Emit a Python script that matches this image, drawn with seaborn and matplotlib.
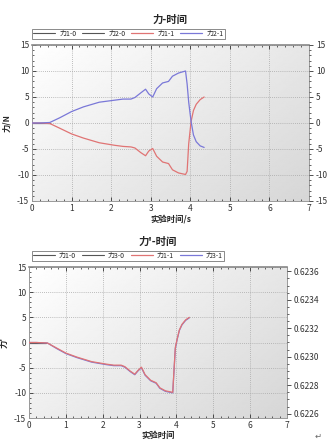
import numpy as np
import pandas as pd
import matplotlib
matplotlib.use("Agg")
import matplotlib.pyplot as plt
import seaborn as sns
from matplotlib.ticker import MultipleLocator, AutoMinorLocator

# ---------------- data ----------------
top_title = "力-时间"
bottom_title = "力'-时间"
top_labels = ["力1-0", "力2-0", "力1-1", "力2-1"]
bottom_labels = ["力1-0", "力3-0", "力1-1", "力3-1"]

zero_time = [0.0, 0.2, 0.45]
zero_force = [0.0, 0.0, 0.0]

time_top = [0.0, 0.2, 0.45, 0.7, 1.0, 1.3, 1.7, 2.1, 2.3, 2.5, 2.6, 2.75, 2.87, 2.95, 3.05,
            3.15, 3.3, 3.45, 3.55, 3.7, 3.88, 3.92, 3.96, 4.02, 4.08, 4.15, 4.25, 4.35]
force_2_1 = [0.0, 0.0, 0.1, 1.0, 2.2, 3.1, 4.0, 4.4, 4.6, 4.6, 4.9, 5.8, 6.5, 5.6, 5.0,
             6.6, 7.7, 8.0, 9.0, 9.6, 10.0, 7.5, 4.0, 0.3, -2.3, -3.6, -4.4, -4.7]
force_1_1 = [0.0, 0.0, -0.1, -1.0, -2.1, -2.9, -3.8, -4.3, -4.5, -4.6, -4.8, -5.7, -6.3, -5.4, -4.9,
             -6.4, -7.5, -7.8, -9.0, -9.6, -9.9, -9.3, -4.0, 0.3, 2.4, 3.6, 4.5, 5.0]

time_bot = [0.0, 0.2, 0.5, 0.75, 1.0, 1.3, 1.7, 2.1, 2.3, 2.5, 2.6, 2.75, 2.87, 2.95, 3.05,
            3.15, 3.3, 3.45, 3.55, 3.7, 3.9, 3.93, 3.97, 4.02, 4.08, 4.15, 4.25, 4.35]
force_b_1_1 = [0.0, 0.0, -0.1, -1.1, -2.1, -2.9, -3.8, -4.3, -4.5, -4.5, -4.8, -5.7, -6.3, -5.6, -4.9,
               -6.4, -7.5, -8.0, -9.0, -9.6, -9.9, -6.0, -1.0, 0.7, 2.5, 3.6, 4.5, 5.0]
force_b_3_1 = [0.0, 0.0, -0.1, -1.2, -2.2, -3.0, -3.9, -4.4, -4.6, -4.6, -4.9, -5.8, -6.4, -5.7, -5.0,
               -6.5, -7.6, -8.1, -9.1, -9.7, -10.0, -6.2, -1.2, 0.6, 2.4, 3.5, 4.4, 4.9]

# ---------------- style ----------------
sns.set_theme(style="white")
plt.rcParams["font.family"] = ["Noto Sans CJK SC", "DejaVu Sans"]
plt.rcParams["axes.unicode_minus"] = False

RED = "#e07474"
BLUE = "#7a78d8"
GRAY = "#555555"
FS = 6

fig = plt.figure(figsize=(3.28, 4.44), dpi=100)


def gradient_bg(ax):
    g = np.linspace(0, 1, 200)
    xx, yy = np.meshgrid(g, g)
    v = 1.0 - 0.16 * (xx * 0.6 + yy * 0.4)
    ax.imshow(v, extent=[0, 1, 0, 1], transform=ax.transAxes, cmap="gray",
              vmin=0.0, vmax=1.0, aspect="auto", zorder=0, origin="upper")


def style_axes(ax):
    ax.set_xlim(0, 7)
    ax.set_ylim(-15, 15)
    ax.xaxis.set_major_locator(MultipleLocator(1))
    ax.xaxis.set_minor_locator(AutoMinorLocator(5))
    ax.yaxis.set_major_locator(MultipleLocator(5))
    ax.yaxis.set_minor_locator(AutoMinorLocator(5))
    ax.grid(True, which="major", linestyle=(0, (1, 1.5)), color="#a8a8a8", linewidth=0.6)
    ax.tick_params(axis="both", which="major", direction="in", length=3, width=0.6,
                   labelsize=FS, colors="#333333", top=True, left=True, bottom=True,
                   right=False, pad=2)
    ax.tick_params(axis="both", which="minor", direction="in", length=1.5, width=0.5,
                   top=True, left=True, bottom=True, right=False)
    for s in ax.spines.values():
        s.set_color("#999999")
        s.set_linewidth(0.7)
    ax.spines["top"].set_color("#888888")
    ax.spines["top"].set_linewidth(1.2)
    ax.set_axisbelow(True)


def draw_legend(ax, handles, labels, x0, y0):
    leg = ax.legend(handles, labels, loc="lower left", bbox_to_anchor=(x0, y0),
                    ncol=4, fontsize=5, frameon=True, fancybox=False,
                    handlelength=3.2, handletextpad=0.6, columnspacing=0.8,
                    borderpad=0.15, borderaxespad=0)
    leg.get_frame().set_edgecolor("#555555")
    leg.get_frame().set_linewidth(0.6)
    leg.get_frame().set_facecolor("white")


# ---------- top chart ----------
ax1 = fig.add_axes([32 / 328, 1 - 201 / 444, 277 / 328, 156 / 444])
gradient_bg(ax1)
style_axes(ax1)
sns.lineplot(x=zero_time, y=zero_force, ax=ax1, color=GRAY, lw=0.8, label=top_labels[0], zorder=2)
sns.lineplot(x=zero_time, y=zero_force, ax=ax1, color=GRAY, lw=0.8, label=top_labels[1], zorder=2)
sns.lineplot(x=time_top, y=force_1_1, ax=ax1, color=RED, lw=0.9, label=top_labels[2], zorder=3)
sns.lineplot(x=time_top, y=force_2_1, ax=ax1, color=BLUE, lw=0.9, label=top_labels[3], zorder=3)
h, l = ax1.get_legend_handles_labels()
draw_legend(ax1, h, l, 0.0, 1.04)
ax1.set_xlabel("实验时间/s", fontsize=FS, fontweight="bold", labelpad=1)
ax1.set_ylabel("力/N", fontsize=FS, fontweight="bold", labelpad=4)
ax1.set_title(top_title, fontsize=7.5, fontweight="bold", pad=16)
ax1r = ax1.twinx()
ax1r.set_ylim(-15, 15)
ax1r.yaxis.set_major_locator(MultipleLocator(5))
ax1r.yaxis.set_minor_locator(AutoMinorLocator(5))
ax1r.tick_params(axis="y", which="major", direction="out", length=3, width=0.6,
                 labelsize=FS, colors="#333333", pad=2)
ax1r.tick_params(axis="y", which="minor", direction="out", length=1.5, width=0.5)
for s in ax1r.spines.values():
    s.set_visible(False)
ax1r.grid(False)

# ---------- bottom chart ----------
ax2 = fig.add_axes([29 / 328, 1 - 418 / 444, 258 / 328, 151 / 444])
gradient_bg(ax2)
style_axes(ax2)
sns.lineplot(x=zero_time, y=zero_force, ax=ax2, color=GRAY, lw=0.8, label=bottom_labels[0], zorder=2)
sns.lineplot(x=zero_time, y=zero_force, ax=ax2, color=GRAY, lw=0.8, label=bottom_labels[1], zorder=2)
sns.lineplot(x=time_bot, y=force_b_3_1, ax=ax2, color=BLUE, lw=0.9, label=bottom_labels[3], zorder=3)
sns.lineplot(x=time_bot, y=force_b_1_1, ax=ax2, color=RED, lw=0.9, label=bottom_labels[2], zorder=3)
h, l = ax2.get_legend_handles_labels()
order = [0, 1, 3, 2]
draw_legend(ax2, [h[i] for i in order], [l[i] for i in order], 0.01, 1.04)
ax2.set_xlabel("实验时间", fontsize=FS, fontweight="bold", labelpad=1)
ax2.set_ylabel("力'", fontsize=FS, fontweight="bold", labelpad=4)
ax2.set_title(bottom_title, fontsize=7.5, fontweight="bold", pad=16)
ax2r = ax2.twinx()
ax2r.set_ylim(0.62257, 0.62363)
ax2r.yaxis.set_major_locator(MultipleLocator(0.0002))
ax2r.yaxis.set_minor_locator(AutoMinorLocator(4))
ax2r.yaxis.set_major_formatter(matplotlib.ticker.FormatStrFormatter("%.4f"))
ax2r.tick_params(axis="y", which="major", direction="out", length=3, width=0.6,
                 labelsize=FS, colors="#333333", pad=2)
ax2r.tick_params(axis="y", which="minor", direction="out", length=1.5, width=0.5)
for s in ax2r.spines.values():
    s.set_visible(False)
ax2r.grid(False)

fig.text(318 / 328, 1 - 436 / 444, "↵", fontsize=6, color="#666666",
         family=["DejaVu Sans"], ha="center", va="center")

fig.savefig("out.png", dpi=100, facecolor="white")
